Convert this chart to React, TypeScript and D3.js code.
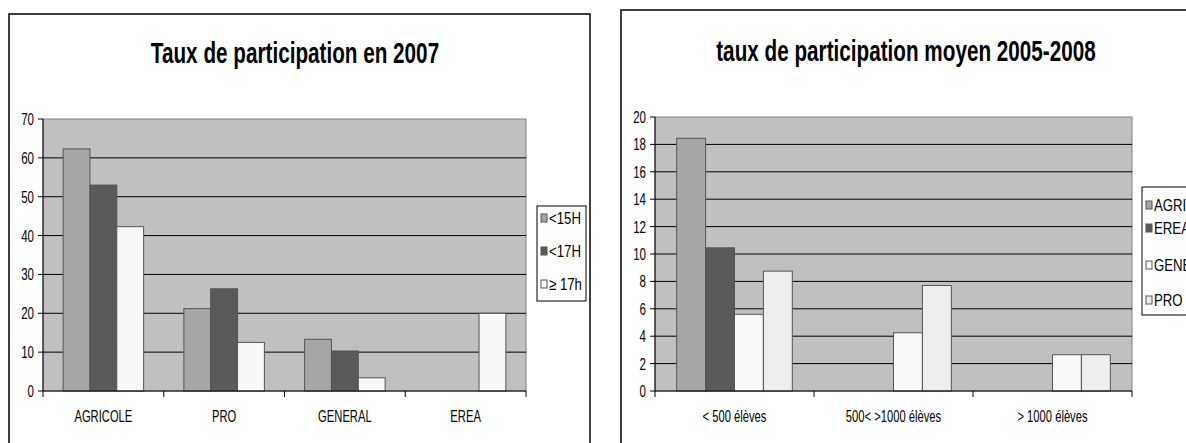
import * as d3 from 'd3'

// ── Data ─────────────────────────────────────────────────────────
const cats2007 = ['AGRICOLE', 'PRO', 'GENERAL', 'EREA']
const series2007 = ['<15H', '<17H', '≥ 17h']
const val15H = [62.3, 21.2, 13.3, 0]
const val17H = [53.0, 26.3, 10.3, 0]
const valGe17h = [42.3, 12.5, 3.4, 20.0]
const ticks2007 = [0, 10, 20, 30, 40, 50, 60, 70]

const catsMoy = ['< 500 élèves', '500< >1000 élèves', '> 1000 élèves']
const seriesMoy = ['AGRICOLE', 'EREA', 'GENERAL', 'PRO']
const valAgri = [18.45, 0, 0]
const valErea = [10.45, 0, 0]
const valGen = [5.6, 4.25, 2.65]
const valPro = [8.75, 7.7, 2.65]
const ticksMoy = [0, 2, 4, 6, 8, 10, 12, 14, 16, 18, 20]

const FONT = '"Liberation Sans", Arial, sans-serif'

// text squeezed horizontally, like the scanned original
function T({ x, y, sx = 0.75, children, ...rest }: any) {
  return (
    <text transform={`translate(${x},${y}) scale(${sx},1)`} fontFamily={FONT} {...rest}>
      {children}
    </text>
  )
}

interface PanelProps {
  frame: { x: number; y: number; w: number; h: number }
  plot: { left: number; right: number; top: number; bottom: number }
  title: string
  titleX: number
  titleY: number
  cats: string[]
  series: string[]
  values: number[][]
  colors: string[]
  ticks: number[]
  legend: { x: number; y: number; w: number; h: number; rows: number[] }
}

function Panel(p: PanelProps) {
  const { plot } = p
  const max = p.ticks[p.ticks.length - 1]
  const y = d3.scaleLinear().domain([0, max]).range([plot.bottom, plot.top])
  const x0 = d3.scaleBand().domain(p.cats).range([plot.left, plot.right]).padding(0)
  const bw = x0.bandwidth()
  const b = bw / (p.series.length + 1.5)
  const x1 = d3
    .scaleBand()
    .domain(p.series)
    .range([0.75 * b, bw - 0.75 * b])
    .padding(0)

  const boundaries = [...p.cats.map((c) => x0(c)!), plot.right]

  return (
    <g>
      <rect x={p.frame.x} y={p.frame.y} width={p.frame.w} height={p.frame.h} fill="#fff" stroke="#000" strokeWidth={1.5} />
      <T x={p.titleX} y={p.titleY} sx={0.69} textAnchor="middle" fontSize={30} fontWeight="bold" fill="#000">
        {p.title}
      </T>

      {/* plot area */}
      <rect x={plot.left} y={plot.top} width={plot.right - plot.left} height={plot.bottom - plot.top} fill="#c0c0c0" stroke="#808080" />

      {/* grid */}
      {p.ticks.slice(1, -1).map((t) => (
        <line key={t} x1={plot.left} x2={plot.right} y1={y(t)} y2={y(t)} stroke="#000" strokeWidth={1} />
      ))}

      {/* bars */}
      {p.cats.map((c, ci) =>
        p.series.map((s, si) => {
          const v = p.values[si][ci]
          if (!v) return null
          return (
            <rect
              key={c + s}
              x={x0(c)! + x1(s)!}
              y={y(v)}
              width={x1.bandwidth()}
              height={y(0) - y(v)}
              fill={p.colors[si]}
              stroke="#555"
              strokeWidth={1}
            />
          )
        })
      )}

      {/* axes */}
      <line x1={plot.left} x2={plot.left} y1={plot.top} y2={plot.bottom} stroke="#000" />
      <line x1={plot.left} x2={plot.right} y1={plot.bottom} y2={plot.bottom} stroke="#000" />
      {p.ticks.map((t) => (
        <g key={t}>
          <line x1={plot.left - 5} x2={plot.left} y1={y(t)} y2={y(t)} stroke="#000" />
          <T x={plot.left - 9} y={y(t) + 6} sx={0.68} textAnchor="end" fontSize={17} fill="#000">
            {t}
          </T>
        </g>
      ))}
      {boundaries.map((bx, i) => (
        <line key={i} x1={bx} x2={bx} y1={plot.bottom} y2={plot.bottom + 6} stroke="#000" />
      ))}
      {p.cats.map((c) => (
        <T key={c} x={x0(c)! + bw / 2} y={plot.bottom + 31} sx={0.68} textAnchor="middle" fontSize={16.5} fill="#000">
          {c}
        </T>
      ))}

      {/* legend */}
      <rect x={p.legend.x} y={p.legend.y} width={p.legend.w} height={p.legend.h} fill="#fff" stroke="#000" />
      {p.series.map((s, i) => (
        <g key={s}>
          <rect x={p.legend.x + 4} y={p.legend.rows[i] - 4} width={6} height={8} fill={p.colors[i]} stroke="#555" />
          <T x={p.legend.x + 12} y={p.legend.rows[i] + 6} sx={0.8} fontSize={16.5} fill="#000">
            {s}
          </T>
        </g>
      ))}
    </g>
  )
}

export default function App() {
  return (
    <svg width={1186} height={443} style={{ position: 'absolute', left: 0, top: 0, background: '#fff' }}>
      <Panel
        frame={{ x: 9, y: 14, w: 581, h: 450 }}
        plot={{ left: 43, right: 526, top: 119, bottom: 391 }}
        title="Taux de participation en 2007"
        titleX={295}
        titleY={63}
        cats={cats2007}
        series={series2007}
        values={[val15H, val17H, valGe17h]}
        colors={['#a6a6a6', '#5a5a5a', '#f8f8f8']}
        ticks={ticks2007}
        legend={{ x: 537, y: 206, w: 49, h: 95, rows: [218, 251, 284] }}
      />
      <Panel
        frame={{ x: 621, y: 10, w: 620, h: 460 }}
        plot={{ left: 655, right: 1132, top: 117, bottom: 391 }}
        title="taux de participation moyen 2005-2008"
        titleX={906}
        titleY={61}
        cats={catsMoy}
        series={seriesMoy}
        values={[valAgri, valErea, valGen, valPro]}
        colors={['#a6a6a6', '#5a5a5a', '#fafafa', '#eeeeee']}
        ticks={ticksMoy}
        legend={{ x: 1142, y: 187, w: 90, h: 128, rows: [205, 228, 265, 300] }}
      />
    </svg>
  )
}
